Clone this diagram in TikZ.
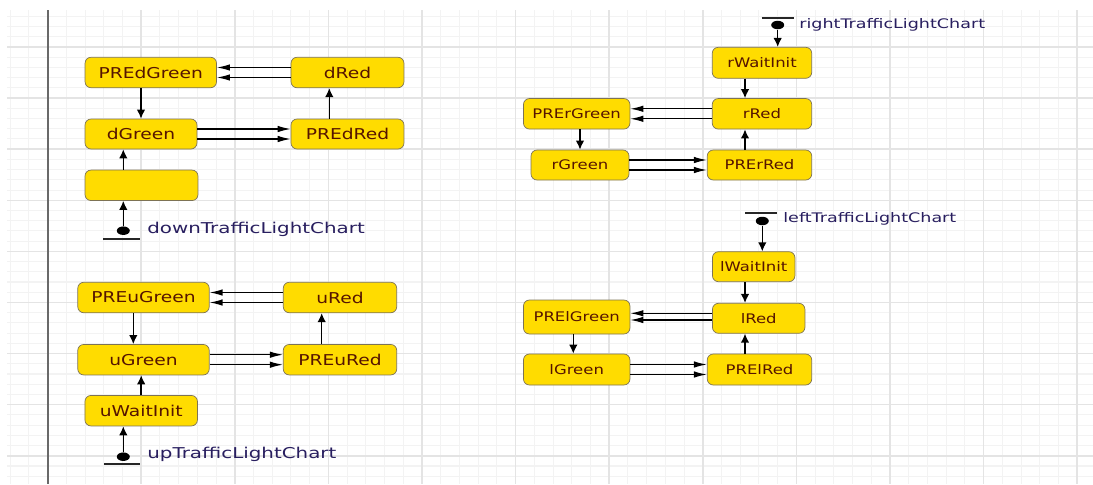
\documentclass[tikz,border=0pt]{standalone}
\usepackage{fontspec}
\usetikzlibrary{arrows.meta,shapes.geometric,calc}
\newfontfamily\statefont[FakeStretch=1.25]{DejaVu Sans}
\newfontfamily\chartfont[FakeStretch=1.33]{DejaVu Sans}
\definecolor{StateFill}{RGB}{255,220,0}
\definecolor{StateBorder}{RGB}{125,115,85}
\definecolor{StateText}{RGB}{85,20,0}
\definecolor{ChartText}{RGB}{40,30,95}
\definecolor{GridMinor}{RGB}{243,243,243}
\definecolor{GridMajor}{RGB}{228,228,228}
\definecolor{FrameLine}{RGB}{105,105,105}

\tikzset{
    chartstate/.style={draw=StateBorder, fill=StateFill, rounded corners=0.12cm,
        text=StateText, inner sep=0pt, minimum height=0.61cm,
        font=\statefont\fontsize{8.5}{9}\selectfont},
    rchartstate/.style={chartstate, font=\statefont\fontsize{7.5}{8}\selectfont},
    initdot/.style={ellipse, fill=black, inner sep=0pt,
        minimum width=0.26cm, minimum height=0.17cm},
    initbar/.style={line width=1.1pt, draw=black!85},
    chartlabel/.style={anchor=west, text=ChartText, inner sep=0pt,
        font=\chartfont\fontsize{8.5}{9}\selectfont},
    rchartlabel/.style={chartlabel, font=\chartfont\fontsize{7.5}{8}\selectfont},
    hconn/.style={line width=0.7pt, -{Latex[length=0.26cm,width=0.13cm]}},
    vconn/.style={line width=0.8pt, -{Latex[length=0.18cm,width=0.17cm]}},
    gridminor/.style={draw=GridMinor, line width=0.6pt},
    gridmajor/.style={draw=GridMajor, line width=0.9pt},
}

\begin{document}
\begin{tikzpicture}[x=0.02cm, y=-0.02cm]

    \useasboundingbox (0,0) rectangle (1093,484);

    % Cuadricula de fondo
    \foreach \k in {0,...,57}
        \draw[gridminor] ({10.16+18.72*\k},10) -- ({10.16+18.72*\k},484);
    \foreach \k in {0,...,45}
        \draw[gridminor] (7,{16.3+10.22*\k}) -- (1093,{16.3+10.22*\k});
    \foreach \k in {1,...,11}
        \draw[gridmajor] ({47.6+93.6*\k},10) -- ({47.6+93.6*\k},484);
    \foreach \k in {0,...,8}
        \draw[gridmajor] (7,{47+51.1*\k}) -- (1093,{47+51.1*\k});
    \draw[FrameLine, line width=1.1pt] (47.6,10) -- (47.6,484);

    % downTrafficLightChart
    \node[chartstate, minimum width=2.63cm] (PREdGreen) at (150.8,72.5) {PREdGreen};
    \node[chartstate, minimum width=2.26cm] (dRed) at (347.5,72.5) {dRed};
    \node[chartstate, minimum width=2.24cm, minimum height=0.6cm] (dGreen) at (141,134) {dGreen};
    \node[chartstate, minimum width=2.26cm, minimum height=0.6cm] (PREdRed) at (347.5,134) {PREdRed};
    \node[chartstate, minimum width=2.26cm] (dWaitInit) at (141.5,185.3) {};
    \node[initdot] (dDot) at (123.3,230.7) {};
    \coordinate (dBar) at ($(dDot)+(0,8.3)$);
    \coordinate (dLane) at (329.3,0);
    \node[chartlabel] (dLabel) at (147,229) {downTrafficLightChart};

    \draw[initbar] ($(dBar)+(-20,0)$) -- ($(dBar)+(17,0)$);
    \draw[vconn] (dDot) -- (dWaitInit.south -| dDot);
    \draw[vconn] (dWaitInit.north -| dDot) -- (dGreen.south -| dDot);
    \draw[vconn] (PREdGreen.south -| dGreen.north) -- (dGreen.north);
    \draw[vconn] (PREdRed.north -| dLane) -- (dRed.south -| dLane);
    \draw[hconn] ([yshift=0.1cm]dRed.west) -- ([yshift=0.1cm]dRed.west -| PREdGreen.east);
    \draw[hconn] ([yshift=-0.1cm]dRed.west) -- ([yshift=-0.1cm]dRed.west -| PREdGreen.east);
    \draw[hconn] ([yshift=0.1cm]dGreen.east) -- ([yshift=0.1cm]dGreen.east -| PREdRed.west);
    \draw[hconn] ([yshift=-0.1cm]dGreen.east) -- ([yshift=-0.1cm]dGreen.east -| PREdRed.west);

    % upTrafficLightChart
    \node[chartstate, minimum width=2.63cm] (PREuGreen) at (143.5,297.5) {PREuGreen};
    \node[chartstate, minimum width=2.27cm] (uRed) at (340,297.5) {uRed};
    \node[chartstate, minimum width=2.63cm] (uGreen) at (143.5,359.7) {uGreen};
    \node[chartstate, minimum width=2.27cm] (PREuRed) at (340,359.7) {PREuRed};
    \node[chartstate, minimum width=2.25cm] (uWaitInit) at (141.2,410.7) {uWaitInit};
    \node[initdot] (uDot) at (123.3,456.7) {};
    \coordinate (uBar) at ($(uDot)+(0,7.6)$);
    \coordinate (uLaneA) at (133.3,0);
    \coordinate (uLaneB) at (321.7,0);
    \node[chartlabel] (uLabel) at (147,454) {upTrafficLightChart};

    \draw[initbar] ($(uBar)+(-19,0)$) -- ($(uBar)+(17,0)$);
    \draw[vconn] (uDot) -- (uWaitInit.south -| uDot);
    \draw[vconn] (uWaitInit.north) -- (uGreen.south -| uWaitInit.north);
    \draw[vconn] (PREuGreen.south -| uLaneA) -- (uGreen.north -| uLaneA);
    \draw[vconn] (PREuRed.north -| uLaneB) -- (uRed.south -| uLaneB);
    \draw[hconn] ([yshift=0.1cm]uRed.west) -- ([yshift=0.1cm]uRed.west -| PREuGreen.east);
    \draw[hconn] ([yshift=-0.1cm]uRed.west) -- ([yshift=-0.1cm]uRed.west -| PREuGreen.east);
    \draw[hconn] ([yshift=0.1cm]uGreen.east) -- ([yshift=0.1cm]uGreen.east -| PREuRed.west);
    \draw[hconn] ([yshift=-0.1cm]uGreen.east) -- ([yshift=-0.1cm]uGreen.east -| PREuRed.west);

    % rightTrafficLightChart
    \node[rchartstate, minimum width=1.99cm, minimum height=0.62cm] (rWaitInit) at (762,62.8) {rWaitInit};
    \node[rchartstate, minimum width=1.99cm] (rRed) at (762,113.8) {rRed};
    \node[rchartstate, minimum width=2.13cm] (PRErGreen) at (576.7,113.8) {PRErGreen};
    \node[rchartstate, minimum width=1.96cm, minimum height=0.6cm] (rGreen) at (580,165) {rGreen};
    \node[rchartstate, minimum width=2.09cm, minimum height=0.6cm] (PRErRed) at (759.5,165) {PRErRed};
    \node[initdot] (rDot) at (777.7,25) {};
    \coordinate (rBar) at ($(rDot)+(0,-6.7)$);
    \coordinate (rLane) at (745,0);
    \node[rchartlabel] (rLabel) at (799,25) {rightTrafficLightChart};

    \draw[initbar] ($(rBar)+(-16,0)$) -- ($(rBar)+(16,0)$);
    \draw[vconn] (rDot) -- (rWaitInit.north -| rDot);
    \draw[vconn] (rWaitInit.south -| rLane) -- (rRed.north -| rLane);
    \draw[vconn] (PRErGreen.south -| rGreen.north) -- (rGreen.north);
    \draw[vconn] (PRErRed.north -| rLane) -- (rRed.south -| rLane);
    \draw[hconn] ([yshift=0.1cm]rRed.west) -- ([yshift=0.1cm]rRed.west -| PRErGreen.east);
    \draw[hconn] ([yshift=-0.1cm]rRed.west) -- ([yshift=-0.1cm]rRed.west -| PRErGreen.east);
    \draw[hconn] ([yshift=0.1cm]rGreen.east) -- ([yshift=0.1cm]rGreen.east -| PRErRed.west);
    \draw[hconn] ([yshift=-0.1cm]rGreen.east) -- ([yshift=-0.1cm]rGreen.east -| PRErRed.west);

    % leftTrafficLightChart
    \node[rchartstate, minimum width=1.65cm, minimum height=0.6cm] (lWaitInit) at (753.7,266.7) {lWaitInit};
    \node[rchartstate, minimum width=1.85cm, minimum height=0.6cm] (lRed) at (758.7,318.3) {lRed};
    \node[rchartstate, minimum width=2.13cm, minimum height=0.68cm] (PRElGreen) at (576.7,317) {PRElGreen};
    \node[rchartstate, minimum width=2.13cm, minimum height=0.62cm] (lGreen) at (576.7,369.5) {lGreen};
    \node[rchartstate, minimum width=2.09cm, minimum height=0.62cm] (PRElRed) at (759.5,369.5) {PRElRed};
    \node[initdot] (lDot) at (762.3,221) {};
    \coordinate (lBar) at ($(lDot)+(0,-8.3)$);
    \coordinate (lLaneA) at (573.3,0);
    \coordinate (lLaneB) at (745,0);
    \node[rchartlabel] (lLabel) at (783,219.3) {leftTrafficLightChart};

    \draw[initbar] ($(lBar)+(-17,0)$) -- ($(lBar)+(15,0)$);
    \draw[vconn] (lDot) -- (lWaitInit.north -| lDot);
    \draw[vconn] (lWaitInit.south -| lLaneB) -- (lRed.north -| lLaneB);
    \draw[vconn] (PRElGreen.south -| lLaneA) -- (lGreen.north -| lLaneA);
    \draw[vconn] (PRElRed.north -| lLaneB) -- (lRed.south -| lLaneB);
    \draw[hconn] ([yshift=0.1cm]lRed.west) -- ([yshift=0.1cm]lRed.west -| PRElGreen.east);
    \draw[hconn] ([yshift=-0.034cm]lRed.west) -- ([yshift=-0.034cm]lRed.west -| PRElGreen.east);
    \draw[hconn] ([yshift=0.1cm]lGreen.east) -- ([yshift=0.1cm]lGreen.east -| PRElRed.west);
    \draw[hconn] ([yshift=-0.1cm]lGreen.east) -- ([yshift=-0.1cm]lGreen.east -| PRElRed.west);

\end{tikzpicture}
\end{document}
